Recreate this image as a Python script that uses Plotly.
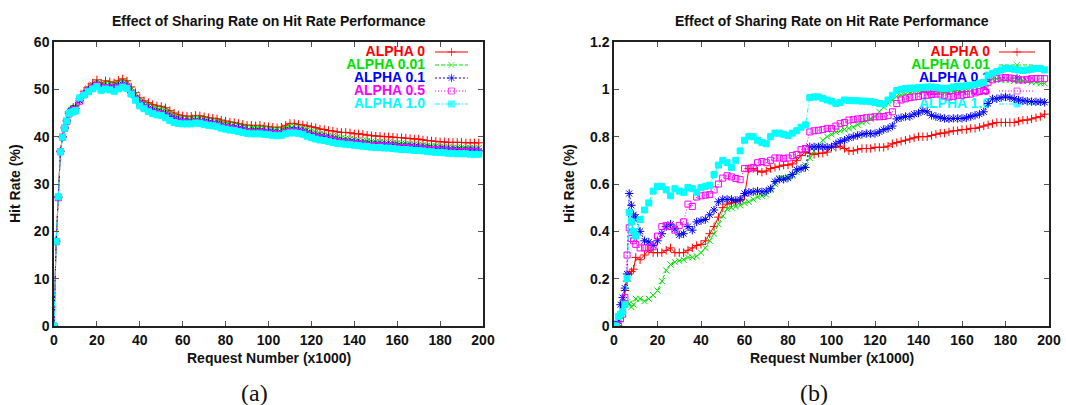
import plotly.graph_objects as go

W, H = 1066, 405

# ---------------- data ----------------
requests_k = list(range(0, 11)) + list(range(12, 199, 2))

series_names = ["ALPHA 0", "ALPHA 0.01", "ALPHA 0.1", "ALPHA 0.5", "ALPHA 1.0"]

# panel (a): hit rate (%)
a_alpha_0 = [0, 18, 27.3, 37, 40, 42, 43.5, 45.2, 45.8, 46.2, 46.5,
             48, 49.6, 50.5, 51.3, 52.0, 51.3, 51.8, 51.6, 51.4, 51.9,
             52.2, 51.8, 50.5, 49.3, 48.2, 47.6, 47.2, 46.8, 46.5, 46.4,
             46.1, 45.5, 45.0, 44.6, 44.4, 44.3, 44.3, 44.5, 44.4, 44.2,
             44.0, 43.9, 43.8, 43.5, 43.3, 43.1, 43.0, 42.8, 42.6, 42.4,
             42.4, 42.3, 42.4, 42.2, 42.1, 42.0, 41.9, 42.0, 42.4, 42.8,
             42.8, 42.6, 42.5, 42.3, 42.1, 41.9, 41.6, 41.5, 41.3, 41.2,
             41.0, 40.9, 40.9, 40.8, 40.6, 40.6, 40.5, 40.3, 40.2, 40.1,
             40.1, 40.0, 40.0, 39.9, 39.8, 39.8, 39.7, 39.6, 39.5, 39.5,
             39.3, 39.2, 39.1, 39.0, 38.9, 38.9, 38.8, 38.8, 38.8, 38.8,
             38.7, 38.7, 38.7, 38.7]
a_alpha_001 = [0, 18, 27.2, 36.9, 40, 41.9, 43.4, 45.0, 45.6, 46.0, 46.3,
               47.8, 49.3, 50.2, 51.0, 51.6, 50.9, 51.3, 51.2, 51.0, 51.4,
               51.7, 51.3, 50.0, 48.9, 47.8, 47.1, 46.7, 46.3, 46.0, 45.9,
               45.6, 45.0, 44.5, 44.1, 43.9, 43.8, 43.8, 44.0, 43.9, 43.7,
               43.5, 43.4, 43.3, 43.0, 42.8, 42.6, 42.5, 42.3, 42.1, 42.0,
               41.9, 41.9, 41.9, 41.8, 41.7, 41.6, 41.5, 41.6, 41.9, 42.2,
               42.2, 42.0, 41.8, 41.5, 41.2, 40.9, 40.6, 40.5, 40.2, 40.1,
               39.9, 39.7, 39.6, 39.5, 39.4, 39.3, 39.2, 39.1, 39.0, 38.9,
               38.9, 38.8, 38.8, 38.7, 38.6, 38.6, 38.5, 38.4, 38.4, 38.3,
               38.2, 38.1, 38.0, 38.0, 37.9, 37.8, 37.8, 37.7, 37.7, 37.7,
               37.6, 37.6, 37.6, 37.6]
a_alpha_01 = [0, 17.9, 27.2, 36.8, 39.9, 41.8, 43.3, 44.9, 45.4, 45.8, 46.0,
              47.6, 49.0, 49.8, 50.5, 51.0, 50.3, 50.6, 50.5, 50.3, 50.7,
              51.0, 50.6, 49.3, 48.2, 47.1, 46.4, 45.9, 45.5, 45.2, 45.1,
              44.8, 44.2, 43.7, 43.4, 43.3, 43.2, 43.2, 43.4, 43.3, 43.1,
              42.9, 42.8, 42.7, 42.4, 42.2, 42.0, 41.9, 41.7, 41.5, 41.3,
              41.2, 41.2, 41.2, 41.1, 41.0, 40.9, 40.8, 40.9, 41.2, 41.4,
              41.4, 41.3, 41.1, 40.8, 40.5, 40.2, 40.0, 39.9, 39.7, 39.5,
              39.3, 39.1, 39.0, 38.9, 38.8, 38.7, 38.6, 38.5, 38.4, 38.4,
              38.3, 38.3, 38.2, 38.2, 38.1, 38.0, 38.0, 37.9, 37.8, 37.8,
              37.7, 37.6, 37.5, 37.5, 37.4, 37.3, 37.3, 37.2, 37.2, 37.2,
              37.1, 37.1, 37.1, 37.0]
a_alpha_05 = [0, 17.8, 27.1, 36.8, 39.9, 41.8, 43.2, 44.8, 45.2, 45.5, 45.7,
              47.5, 48.9, 49.7, 50.3, 50.8, 50.1, 50.4, 50.3, 50.0, 50.4,
              50.7, 50.4, 49.1, 47.9, 46.8, 46.1, 45.6, 45.2, 44.9, 44.8,
              44.4, 43.8, 43.4, 43.1, 43.0, 42.9, 42.9, 43.1, 43.0, 42.8,
              42.6, 42.5, 42.4, 42.1, 41.9, 41.7, 41.6, 41.4, 41.2, 41.0,
              40.9, 40.9, 40.9, 40.8, 40.7, 40.6, 40.5, 40.6, 40.9, 41.1,
              41.1, 41.0, 40.8, 40.5, 40.2, 39.9, 39.7, 39.6, 39.4, 39.2,
              39.0, 38.8, 38.7, 38.6, 38.5, 38.4, 38.3, 38.2, 38.1, 38.1,
              38.0, 38.0, 37.9, 37.9, 37.8, 37.7, 37.7, 37.6, 37.5, 37.5,
              37.4, 37.3, 37.2, 37.2, 37.1, 37.0, 37.0, 36.9, 36.9, 36.9,
              36.8, 36.8, 36.8, 36.7]
a_alpha_10 = [0, 17.9, 27.3, 36.8, 39.9, 41.8, 43.3, 44.9, 45.1, 45.3, 45.5,
              48.2, 48.8, 49.5, 50.1, 50.6, 49.8, 50.1, 49.9, 49.6, 50.1,
              50.5, 50.2, 49.0, 47.7, 46.5, 45.9, 45.3, 44.9, 44.6, 44.5,
              44.0, 43.4, 43.0, 42.8, 42.7, 42.7, 42.7, 42.9, 42.8, 42.6,
              42.4, 42.3, 42.1, 41.8, 41.6, 41.4, 41.3, 41.1, 40.9, 40.7,
              40.6, 40.6, 40.6, 40.5, 40.4, 40.3, 40.2, 40.3, 40.6, 40.8,
              40.8, 40.7, 40.5, 40.1, 39.8, 39.5, 39.3, 39.2, 39.0, 38.8,
              38.6, 38.5, 38.4, 38.3, 38.2, 38.1, 38.0, 37.9, 37.8, 37.7,
              37.7, 37.6, 37.6, 37.5, 37.4, 37.3, 37.3, 37.2, 37.1, 37.1,
              37.0, 36.9, 36.8, 36.7, 36.7, 36.6, 36.5, 36.5, 36.4, 36.4,
              36.4, 36.3, 36.3, 36.3]

# panel (b): hit rate (%)
b_alpha_0 = [0, 0, 0, 0.05, 0.10, 0.15, 0.19, 0.22, 0.23, 0.24, 0.29,
             0.28, 0.30, 0.32, 0.31, 0.31, 0.31, 0.32, 0.33, 0.31, 0.31,
             0.31, 0.32, 0.33, 0.34, 0.345, 0.36, 0.39, 0.42, 0.46, 0.50,
             0.515, 0.52, 0.525, 0.53, 0.55, 0.665, 0.665, 0.655, 0.65, 0.655,
             0.665, 0.67, 0.675, 0.68, 0.68, 0.685, 0.70, 0.72, 0.735, 0.73,
             0.725, 0.73, 0.73, 0.735, 0.755, 0.755, 0.76, 0.75, 0.74, 0.74,
             0.745, 0.75, 0.75, 0.75, 0.755, 0.755, 0.755, 0.76, 0.77, 0.775,
             0.78, 0.785, 0.79, 0.795, 0.80, 0.80, 0.80, 0.805, 0.81, 0.815,
             0.815, 0.82, 0.825, 0.825, 0.83, 0.83, 0.835, 0.835, 0.84, 0.845,
             0.85, 0.855, 0.86, 0.86, 0.86, 0.86, 0.86, 0.865, 0.87, 0.87,
             0.875, 0.88, 0.885, 0.895]
b_alpha_001 = [0, 0, 0.01, 0.04, 0.07, 0.09, 0.10, 0.095, 0.08, 0.09, 0.115,
               0.115, 0.105, 0.115, 0.13, 0.15, 0.19, 0.235, 0.26, 0.27, 0.275,
               0.28, 0.29, 0.29, 0.295, 0.31, 0.33, 0.36, 0.39, 0.43, 0.465,
               0.495, 0.50, 0.505, 0.51, 0.52, 0.525, 0.535, 0.545, 0.55, 0.555,
               0.575, 0.60, 0.625, 0.625, 0.63, 0.635, 0.65, 0.665, 0.68, 0.71,
               0.74, 0.76, 0.785, 0.80, 0.81, 0.82, 0.825, 0.83, 0.835, 0.84,
               0.85, 0.86, 0.865, 0.875, 0.885, 0.905, 0.925, 0.94, 0.955, 0.97,
               0.975, 0.98, 0.985, 0.99, 0.99, 0.995, 1.0, 0.995, 0.99, 0.99,
               0.985, 0.99, 0.99, 0.995, 1.0, 1.0, 1.005, 1.01, 1.015, 1.02,
               1.04, 1.045, 1.045, 1.04, 1.04, 1.04, 1.035, 1.035, 1.035, 1.035,
               1.03, 1.03, 1.025, 1.025]
b_alpha_01 = [0, 0, 0.02, 0.09, 0.12, 0.16, 0.22, 0.56, 0.51, 0.47, 0.46,
              0.40, 0.36, 0.355, 0.34, 0.36, 0.39, 0.42, 0.43, 0.41, 0.385,
              0.39, 0.42, 0.405, 0.44, 0.445, 0.45, 0.47, 0.49, 0.525, 0.535,
              0.535, 0.535, 0.53, 0.535, 0.56, 0.565, 0.567, 0.57, 0.567, 0.57,
              0.58, 0.61, 0.62, 0.62, 0.625, 0.64, 0.66, 0.665, 0.67, 0.757,
              0.757, 0.757, 0.757, 0.755, 0.757, 0.77, 0.78, 0.785, 0.795, 0.80,
              0.805, 0.81, 0.813, 0.813, 0.813, 0.82, 0.83, 0.835, 0.845, 0.875,
              0.88, 0.885, 0.885, 0.895, 0.90, 0.91, 0.905, 0.89, 0.885, 0.88,
              0.877, 0.875, 0.877, 0.877, 0.877, 0.88, 0.885, 0.89, 0.895, 0.905,
              0.94, 0.96, 0.96, 0.965, 0.968, 0.965, 0.96, 0.955, 0.952, 0.95,
              0.948, 0.947, 0.947, 0.945]
b_alpha_05 = [0, 0, 0, 0.03, 0.05, 0.12, 0.30, 0.415, 0.37, 0.36, 0.345,
              0.33, 0.33, 0.33, 0.335, 0.38, 0.42, 0.425, 0.42, 0.405, 0.425,
              0.44, 0.515, 0.505, 0.545, 0.55, 0.553, 0.555, 0.575, 0.60, 0.625,
              0.635, 0.63, 0.623, 0.618, 0.665, 0.665, 0.67, 0.69, 0.695, 0.69,
              0.70, 0.71, 0.71, 0.708, 0.71, 0.72, 0.725, 0.745, 0.75, 0.82,
              0.825, 0.827, 0.83, 0.835, 0.834, 0.845, 0.855, 0.86, 0.87, 0.872,
              0.875, 0.877, 0.88, 0.882, 0.884, 0.884, 0.885, 0.89, 0.905, 0.94,
              0.955, 0.96, 0.965, 0.968, 0.97, 0.975, 0.975, 0.978, 0.98, 0.98,
              0.975, 0.968, 0.97, 0.975, 0.975, 0.978, 0.98, 0.985, 0.99, 0.995,
              1.03, 1.04, 1.045, 1.048, 1.05, 1.048, 1.045, 1.04, 1.04, 1.042,
              1.045, 1.045, 1.045, 1.045]
b_alpha_10 = [0, 0, 0.04, 0.05, 0.06, 0.09, 0.20, 0.48, 0.44, 0.40, 0.38,
              0.45, 0.49, 0.52, 0.57, 0.59, 0.59, 0.575, 0.55, 0.58, 0.57,
              0.565, 0.585, 0.58, 0.565, 0.585, 0.59, 0.595, 0.64, 0.68, 0.70,
              0.69, 0.67, 0.70, 0.74, 0.785, 0.80, 0.80, 0.785, 0.775, 0.77,
              0.80, 0.815, 0.815, 0.81, 0.805, 0.815, 0.825, 0.84, 0.85, 0.965,
              0.968, 0.968, 0.962, 0.955, 0.95, 0.94, 0.945, 0.955, 0.953, 0.952,
              0.952, 0.95, 0.95, 0.948, 0.945, 0.94, 0.938, 0.955, 0.975, 0.995,
              1.0, 1.003, 1.005, 1.005, 1.007, 1.008, 1.01, 1.01, 1.008, 1.005,
              1.003, 1.005, 1.01, 1.013, 1.013, 1.015, 1.017, 1.02, 1.025, 1.03,
              1.06, 1.068, 1.075, 1.082, 1.088, 1.088, 1.085, 1.082, 1.08, 1.082,
              1.085, 1.088, 1.088, 1.082]

panel_a = [a_alpha_0, a_alpha_001, a_alpha_01, a_alpha_05, a_alpha_10]
panel_b = [b_alpha_0, b_alpha_001, b_alpha_01, b_alpha_05, b_alpha_10]

x_ticks = [0, 20, 40, 60, 80, 100, 120, 140, 160, 180, 200]

# ---------------- styles ----------------
colors = ["#ff0000", "#00e000", "#0000ff", "#ff00ff", "#00ffff"]
symbols = ["cross-thin-open", "x-thin-open", "asterisk-open", "square-open", "square"]
msizes = [6, 6, 7, 6, 6]
dashes = ["solid", "4px,2px", "2px,2px", "1px,2px", "5px,2px,1px,2px"]

FONT = "Liberation Sans, Arial, Helvetica, sans-serif"

# plot-area pixel boxes
A_BOX = (54, 483, 42, 326)     # left, right, top, bottom
B_BOX = (614, 1049, 42, 326)
A_YMAX, B_YMAX = 60, 1.2

fig = go.Figure()


def to_data(box, ymax, px, py):
    l, r, t, b = box
    return (px - l) / (r - l) * 200, (b - py) / (b - t) * ymax


def add_legend(box, ymax, xa, ya, text_right, line_l, line_r):
    for i, name in enumerate(series_names):
        py = 52 + 13 * i
        tx, ty = to_data(box, ymax, text_right, py)
        fig.add_trace(go.Scatter(
            x=[tx], y=[ty], mode="text", text=[name], textposition="middle left",
            textfont=dict(family=FONT, size=14, color=colors[i], weight="bold"),
            xaxis=xa, yaxis=ya, showlegend=False, hoverinfo="skip", cliponaxis=False))
        x1, _ = to_data(box, ymax, line_l, py)
        x2, _ = to_data(box, ymax, line_r, py)
        fig.add_trace(go.Scatter(
            x=[x1, (x1 + x2) / 2, x2], y=[ty, ty, ty], mode="lines+markers",
            line=dict(color=colors[i], width=1, dash=dashes[i]),
            marker=dict(symbol=symbols[i], size=[0, msizes[i], 0], color=colors[i],
                        line=dict(color=colors[i], width=1)),
            xaxis=xa, yaxis=ya, showlegend=False, hoverinfo="skip", cliponaxis=False))


def add_series(data, xa, ya):
    for i, ys in enumerate(data):
        fig.add_trace(go.Scatter(
            x=requests_k, y=ys, mode="lines+markers", name=series_names[i],
            line=dict(color=colors[i], width=1, dash=dashes[i]),
            marker=dict(symbol=symbols[i], size=msizes[i], color=colors[i],
                        line=dict(color=colors[i], width=1)),
            xaxis=xa, yaxis=ya, showlegend=False))


add_legend(A_BOX, A_YMAX, "x", "y", 425, 435, 468)
add_series(panel_a, "x", "y")
add_legend(B_BOX, B_YMAX, "x2", "y2", 990, 999, 1035)
add_series(panel_b, "x2", "y2")

axis_common = dict(
    showline=True, linecolor="#222222", linewidth=1.5, mirror="ticks",
    ticks="inside", ticklen=5, tickwidth=1, tickcolor="#555555",
    showgrid=False, zeroline=False, automargin=False,
    tickfont=dict(family=FONT, size=14, color="#111111", weight="bold"),
)


def xdom(box):
    return [box[0] / W, box[1] / W]


def ydom(box):
    return [1 - box[3] / H, 1 - box[2] / H]


fig.update_layout(
    width=W, height=H, margin=dict(l=0, r=0, t=0, b=0, pad=0, autoexpand=False),
    paper_bgcolor="white", plot_bgcolor="white", showlegend=False,
    xaxis=dict(domain=xdom(A_BOX), range=[0, 200], tickvals=x_ticks, anchor="y", **axis_common),
    yaxis=dict(domain=ydom(A_BOX), range=[0, 60], dtick=10, anchor="x", **axis_common),
    xaxis2=dict(domain=xdom(B_BOX), range=[0, 200], tickvals=x_ticks, anchor="y2", **axis_common),
    yaxis2=dict(domain=ydom(B_BOX), range=[0, 1.2], dtick=0.2, anchor="x2", **axis_common),
)

title_txt = "Effect of Sharing Rate on Hit Rate Performance"
bold = dict(family=FONT, size=14, color="#111111", weight="bold")
ann = []
for box, lab_x, sub in [(A_BOX, 15, "(a)"), (B_BOX, 569, "(b)")]:
    cx = (box[0] + box[1]) / 2
    ann.append(dict(text=title_txt, x=cx / W, y=1 - 21 / H, xref="paper", yref="paper",
                    showarrow=False, font=bold, xanchor="center", yanchor="middle"))
    ann.append(dict(text="Request Number (x1000)", x=cx / W, y=1 - 358 / H, xref="paper",
                    yref="paper", showarrow=False, font=bold, xanchor="center", yanchor="middle"))
    ann.append(dict(text="Hit Rate (%)", x=lab_x / W, y=1 - 184 / H, xref="paper",
                    yref="paper", showarrow=False, font=bold, textangle=-90,
                    xanchor="center", yanchor="middle"))
ann.append(dict(text="(a)", x=254 / W, y=1 - 393 / H, xref="paper", yref="paper",
                showarrow=False, xanchor="center", yanchor="middle",
                font=dict(family="Liberation Serif, Times New Roman, serif", size=24, color="#111111")))
ann.append(dict(text="(b)", x=814 / W, y=1 - 393 / H, xref="paper", yref="paper",
                showarrow=False, xanchor="center", yanchor="middle",
                font=dict(family="Liberation Serif, Times New Roman, serif", size=24, color="#111111")))
fig.update_layout(annotations=ann)

fig.write_html(
    "out.html",
    config={"displayModeBar": False},
    post_script="document.body.style.margin='0px';document.body.style.padding='0px';"
                "document.body.style.overflow='hidden';",
)
